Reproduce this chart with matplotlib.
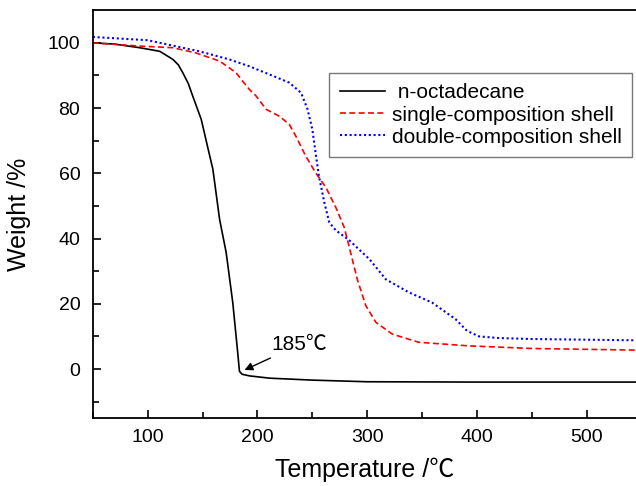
import numpy as np
import matplotlib.pyplot as plt

plt.rcParams['font.family'] = ['Liberation Sans', 'Noto Sans CJK SC', 'DejaVu Sans']

# n-octadecane
t_oct = [50, 70, 92.7, 111, 123, 128, 132, 137, 141, 148.8, 153, 159.4, 165.5, 171.5, 177.5, 182, 183.6,
         186, 192.7, 211, 250, 300, 400, 545]
w_oct = [100, 99.6, 98.5, 97.4, 94.9, 93.2, 90.8, 87.5, 83.7, 76.5, 70.4, 61.2, 45.9, 35.7, 20.4, 5.1, -0.7,
         -1.6, -2.1, -2.8, -3.4, -3.9, -4.0, -4.0]

# single-composition shell
t_single = [50, 92.7, 123, 144, 165.5, 174.5, 180.6, 186.6, 192.7, 198.8, 208, 220, 229, 235, 244,
            253, 262.5, 271.5, 279, 283.6, 291, 298.8, 308, 323, 347, 392.7, 450, 545]
w_single = [100, 99, 98.5, 96.9, 94.4, 92.3, 90.8, 88.2, 85.7, 83.7, 79.6, 77.5, 75, 71.4, 65.3,
            60.2, 55.6, 49.5, 43.5, 37.5, 27.5, 19.4, 14.3, 10.7, 8.2, 7.1, 6.3, 5.8]

# double-composition shell
t_double = [50, 100, 147, 174.5, 192.7, 211, 229, 239.7, 245.7, 250, 253, 256, 261, 265.5, 271.5,
            283.6, 302, 317, 338, 359, 380.5, 391, 402, 420, 450, 545]
w_double = [101.8, 100.8, 97.4, 94.9, 92.8, 90.3, 87.8, 84.7, 79.6, 73.5, 66.3, 59.2, 51, 44.9, 42.5,
            39.5, 33.7, 27.5, 23.5, 20.4, 15.3, 11.7, 10, 9.5, 9.2, 8.8]

fig = plt.figure(figsize=(6.36, 4.86), dpi=100)
ax = fig.add_axes([0.146, 0.140, 0.854, 0.839])

ax.plot(t_oct, w_oct, color='black', lw=1.2, label=' n-octadecane')
ax.plot(t_single, w_single, color='red', lw=1.2, ls=(0, (3.6, 2)), label='single-composition shell')
ax.plot(t_double, w_double, color='blue', lw=1.5, ls=(0, (1, 1.3)), label='double-composition shell')

ax.set_xlim(50, 545)
ax.set_ylim(-15, 110)
ax.set_xticks([100, 200, 300, 400, 500])
ax.set_xticks(np.arange(50, 545, 50), minor=True)
ax.set_yticks([0, 20, 40, 60, 80, 100])
ax.set_yticks(np.arange(-10, 110, 10), minor=True)
ax.tick_params(which='both', direction='in', labelsize=14, width=1.2)
ax.tick_params(which='major', length=6)
ax.tick_params(which='minor', length=4)
ax.tick_params(axis='x', pad=8)
ax.tick_params(axis='y', pad=9)
for s in ax.spines.values():
    s.set_linewidth(1.3)
ax.spines['right'].set_visible(False)

ax.set_xlabel('Temperature /℃', fontsize=18, labelpad=8)
ax.set_ylabel('Weight /%', fontsize=18, labelpad=12)

ax.annotate('185℃', xy=(188.2, -0.3), xytext=(213, 7.5), fontsize=15,
            va='center', ha='left',
            arrowprops=dict(arrowstyle='-|>', color='black', lw=1, shrinkA=2, shrinkB=0,
                            mutation_scale=12))

leg = ax.legend(loc='upper left', bbox_to_anchor=(0.435, 0.846), borderaxespad=0,
                fontsize=15, frameon=True, fancybox=False, handlelength=2.2,
                borderpad=0.5, labelspacing=0.15, handletextpad=0.3)
leg.get_frame().set_edgecolor('#555555')
leg.get_frame().set_linewidth(1)

fig.savefig('out.png', dpi=100)
